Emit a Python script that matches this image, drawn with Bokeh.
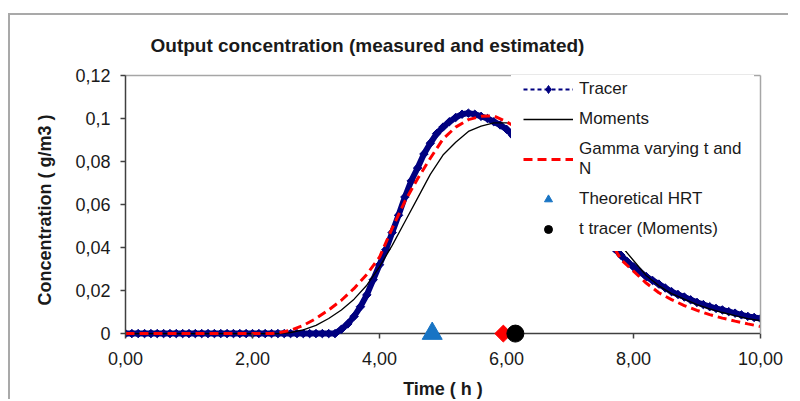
import math
from bokeh.plotting import figure
from bokeh.models import Range1d, FixedTicker, Legend, LegendItem, LinearAxis, Span
from bokeh.embed import file_html
from bokeh.resources import INLINE

# ---------------- data ----------------
TITLE = "Output concentration (measured and estimated)"
X_LABEL = "Time ( h )"
Y_LABEL = "Concentration ( g/m3 )"

x_ticks = [0, 2, 4, 6, 8, 10]
x_tick_labels = ["0,00", "2,00", "4,00", "6,00", "8,00", "10,00"]
y_ticks = [0, 0.02, 0.04, 0.06, 0.08, 0.1, 0.12]
y_tick_labels = ["0", "0,02", "0,04", "0,06", "0,08", "0,1", "0,12"]

tracer_t = [0.0, 0.1, 0.2, 0.3, 0.4, 0.5, 0.6, 0.7, 0.8, 0.9,
            1.0, 1.1, 1.2, 1.3, 1.4, 1.5, 1.6, 1.7, 1.8, 1.9,
            2.0, 2.1, 2.2, 2.3, 2.4, 2.5, 2.6, 2.7, 2.8, 2.9,
            3.0, 3.1, 3.2, 3.3, 3.4, 3.5, 3.6, 3.7, 3.8, 3.9,
            4.0, 4.1, 4.2, 4.3, 4.4, 4.5, 4.6, 4.7, 4.8, 4.9,
            5.0, 5.1, 5.2, 5.3, 5.4, 5.5, 5.6, 5.7, 5.8, 5.9,
            6.0, 6.1, 6.2, 6.3, 6.4, 6.5, 6.6, 6.7, 6.8, 6.9,
            7.0, 7.1, 7.2, 7.3, 7.4, 7.5, 7.6, 7.7, 7.8, 7.9,
            8.0, 8.1, 8.2, 8.3, 8.4, 8.5, 8.6, 8.7, 8.8, 8.9,
            9.0, 9.1, 9.2, 9.3, 9.4, 9.5, 9.6, 9.7, 9.8, 9.9, 10.0]
tracer_c = [0, 0, 0, 0, 0, 0, 0, 0, 0, 0,
            0, 0, 0, 0, 0, 0, 0, 0, 0, 0,
            0, 0, 0, 0, 0, 0, 0, 0, 0, 0,
            0, 0, 0, 0, 0.002, 0.0045, 0.008, 0.0125, 0.018, 0.025,
            0.032, 0.039, 0.047, 0.055, 0.0635, 0.071, 0.077, 0.0835, 0.0885, 0.093,
            0.096, 0.0985, 0.1005, 0.102, 0.1025, 0.102, 0.101, 0.1, 0.0985, 0.097,
            0.095, 0.092, 0.089, 0.0865, 0.084, 0.081, 0.078, 0.0745, 0.071, 0.0675,
            0.064, 0.0605, 0.057, 0.0535, 0.05, 0.0465, 0.043, 0.0395, 0.0365, 0.0335,
            0.031, 0.0287, 0.0265, 0.0247, 0.023, 0.0212, 0.0195, 0.0182, 0.017, 0.0157,
            0.0145, 0.0135, 0.0125, 0.0117, 0.011, 0.0102, 0.0095, 0.0087, 0.008, 0.0075, 0.007]

moments_t = [0.0, 2.4, 2.6, 2.8, 3.0, 3.2, 3.4, 3.6, 3.8, 4.0, 4.2, 4.4, 4.6, 4.8,
             5.0, 5.2, 5.4, 5.6, 5.8, 6.0, 6.2, 6.4, 6.6, 6.8, 7.0, 7.2, 7.4, 7.6,
             7.8, 8.0, 8.2, 8.4, 8.6, 8.8, 9.0, 9.2, 9.4, 9.6, 9.8, 10.0]
moments_c = [0, 0, 0.0005, 0.0017, 0.0038, 0.007, 0.011, 0.016, 0.0225, 0.031, 0.041, 0.052, 0.063, 0.074,
             0.083, 0.089, 0.094, 0.0965, 0.098, 0.098, 0.0965, 0.093, 0.088, 0.082, 0.075, 0.067, 0.058, 0.049,
             0.041, 0.034, 0.027, 0.0222, 0.0186, 0.016, 0.0135, 0.0115, 0.0098, 0.0083, 0.007, 0.006]

gamma_t = [0.0, 2.3, 2.4, 2.6, 2.8, 3.0, 3.2, 3.4, 3.6, 3.8, 4.0, 4.2, 4.4, 4.6, 4.8,
           5.0, 5.2, 5.4, 5.6, 5.8, 6.0, 6.2, 6.4, 6.6, 6.8, 7.0, 7.2, 7.4, 7.6,
           7.8, 8.0, 8.2, 8.4, 8.6, 8.8, 9.0, 9.2, 9.4, 9.6, 9.8, 10.0]
gamma_c = [0, 0, 0.0003, 0.0015, 0.0038, 0.007, 0.011, 0.0155, 0.021, 0.0275, 0.0355, 0.049, 0.0615, 0.072, 0.0815,
           0.0905, 0.096, 0.0995, 0.101, 0.1012, 0.0985, 0.095, 0.09, 0.084, 0.077, 0.069, 0.061, 0.053, 0.045,
           0.0345, 0.029, 0.0235, 0.019, 0.0158, 0.013, 0.0108, 0.0088, 0.0072, 0.0058, 0.0045, 0.0033]

hrt_t = [4.83]
hrt_c = [0]
gamma_mean_t = [5.95]
gamma_mean_c = [0]
moments_mean_t = [6.14]
moments_mean_c = [0]

# ---------------- style ----------------
FONT = "Liberation Sans"
NAVY = "#000080"
RED = "#ff0000"
BLUE = "#1874c4"
AXIS = "#404040"
BORDER = "#a6a6a6"
TEXT = "#1a1a1a"

PAD_PX = 11                       # frame extends a little below zero so markers on the axis are whole
y_lo = -0.12 * PAD_PX / 260

p = figure(width=780, height=386, x_range=Range1d(0, 10), y_range=Range1d(y_lo, 0.12),
           output_backend="svg", toolbar_location=None, title=TITLE,
           min_border_left=115, min_border_right=30, min_border_top=60, min_border_bottom=55,
           background_fill_color="white", border_fill_color="white")
p.styles = {"margin-left": "8px", "margin-top": "13px",
            "border-top": "2px solid #a9a9a9", "border-left": "2px solid #a9a9a9"}
p.outline_line_color = None
p.grid.visible = False
p.extra_y_ranges = {"legend_only": Range1d(10, 11)}

p.title.text_font = FONT
p.title.text_font_size = "19px"
p.title.text_font_style = "bold"
p.title.text_color = TEXT
p.title.align = "left"
p.title.offset = 25
p.title.vertical_align = "top"
p.title.standoff = 36

xa = p.xaxis[0]
xa.ticker = FixedTicker(ticks=x_ticks, minor_ticks=[])
xa.major_label_overrides = dict(zip(x_ticks, x_tick_labels))
xa.axis_label = X_LABEL
ya = p.yaxis[0]
ya.ticker = FixedTicker(ticks=y_ticks, minor_ticks=[])
ya.major_label_overrides = dict(zip(y_ticks, y_tick_labels))
ya.axis_label = Y_LABEL
ya.bounds = (0, 0.12)
for ax in (xa, ya):
    ax.axis_line_color = AXIS
    ax.axis_line_width = 1.5
    ax.major_tick_line_color = AXIS
    ax.major_tick_line_width = 1.5
    ax.major_tick_out = 5
    ax.major_tick_in = 0
    ax.minor_tick_out = 0
    ax.minor_tick_in = 0
    ax.major_label_text_font = FONT
    ax.major_label_text_font_size = "18px"
    ax.major_label_text_color = TEXT
    ax.axis_label_text_font = FONT
    ax.axis_label_text_font_size = "18px"
    ax.axis_label_text_font_style = "bold"
    ax.axis_label_text_color = TEXT
# x axis: line drawn at y = 0 by a span; ticks shifted up to start at y = 0
xa.axis_line_color = None
xa.major_tick_in = PAD_PX
xa.major_tick_out = 5 - PAD_PX
xa.major_label_standoff = 7
xa.axis_label_standoff = 11
ya.major_label_standoff = 10
ya.axis_label_standoff = 17

zero_line = Span(location=0, dimension="width", line_color=AXIS, line_width=1.5, level="underlay")
p.add_layout(zero_line)

# plot-area border (top and right)
top_ax = LinearAxis(ticker=FixedTicker(ticks=[], minor_ticks=[]), axis_line_color=BORDER, axis_line_width=1.5,
                    major_tick_out=0, major_tick_in=0, minor_tick_out=0, minor_tick_in=0,
                    major_label_text_font_size="0px", major_label_standoff=0)
p.add_layout(top_ax, "above")
right_ax = LinearAxis(ticker=FixedTicker(ticks=[], minor_ticks=[]), axis_line_color=BORDER, axis_line_width=1.5,
                      major_tick_out=0, major_tick_in=0, minor_tick_out=0, minor_tick_in=0,
                      major_label_text_font_size="0px", major_label_standoff=0, bounds=(0, 0.12))
p.add_layout(right_ax, "right")

# ---------------- series ----------------
p.line(tracer_t, tracer_c, line_color=NAVY, line_width=6)
p.scatter(tracer_t, tracer_c, marker="square", angle=math.pi / 4, size=6, fill_color=NAVY, line_color=NAVY)
p.line(moments_t, moments_c, line_color="black", line_width=1.3)
p.line(gamma_t, gamma_c, line_color=RED, line_width=3, line_dash="9 5")

p.scatter(hrt_t, hrt_c, marker="triangle", size=20, fill_color=BLUE, line_color=BLUE, level="overlay")
p.scatter(gamma_mean_t, gamma_mean_c, marker="square", angle=math.pi / 4, size=12,
          fill_color=RED, line_color=RED, level="overlay")
p.scatter(moments_mean_t, moments_mean_c, marker="circle", size=17, fill_color="black", line_color="black",
          level="overlay")

# legend swatches: same data, drawn on an out-of-view range so only the legend shows them
lg_tr_line = p.line(tracer_t, tracer_c, line_color=NAVY, line_width=2, line_dash="4 3", y_range_name="legend_only")
lg_tr_pt = p.scatter(tracer_t, tracer_c, marker="diamond", fill_color=NAVY, line_color=NAVY,
                     y_range_name="legend_only")
lg_mo = p.line(moments_t, moments_c, line_color="black", line_width=1.5, y_range_name="legend_only")
lg_ga = p.line(gamma_t, gamma_c, line_color=RED, line_width=3, line_dash="9 5", y_range_name="legend_only")
lg_hrt = p.scatter(hrt_t, hrt_c, marker="triangle", fill_color=BLUE, line_color=BLUE, y_range_name="legend_only")
lg_mm = p.scatter(moments_mean_t, moments_mean_c, marker="circle", fill_color="black", line_color="black",
                  y_range_name="legend_only")

legend = Legend(items=[
    LegendItem(label="Tracer", renderers=[lg_tr_line, lg_tr_pt]),
    LegendItem(label="Moments", renderers=[lg_mo]),
    LegendItem(label="Gamma varying t and\nN", renderers=[lg_ga]),
    LegendItem(label="Theoretical HRT", renderers=[lg_hrt]),
    LegendItem(label="t tracer (Moments)", renderers=[lg_mm]),
], location=(386, 93))
legend.label_text_font = FONT
legend.label_text_font_size = "17px"
legend.label_text_color = TEXT
legend.label_text_line_height = 1.05
legend.glyph_width = 50
legend.glyph_height = 20
legend.label_standoff = 6
legend.padding = 12
legend.spacing = 10
legend.margin = 0
legend.border_line_alpha = 0
legend.background_fill_color = "white"
legend.background_fill_alpha = 1
p.add_layout(legend)

open("out.html", "w").write(file_html(p, INLINE))
